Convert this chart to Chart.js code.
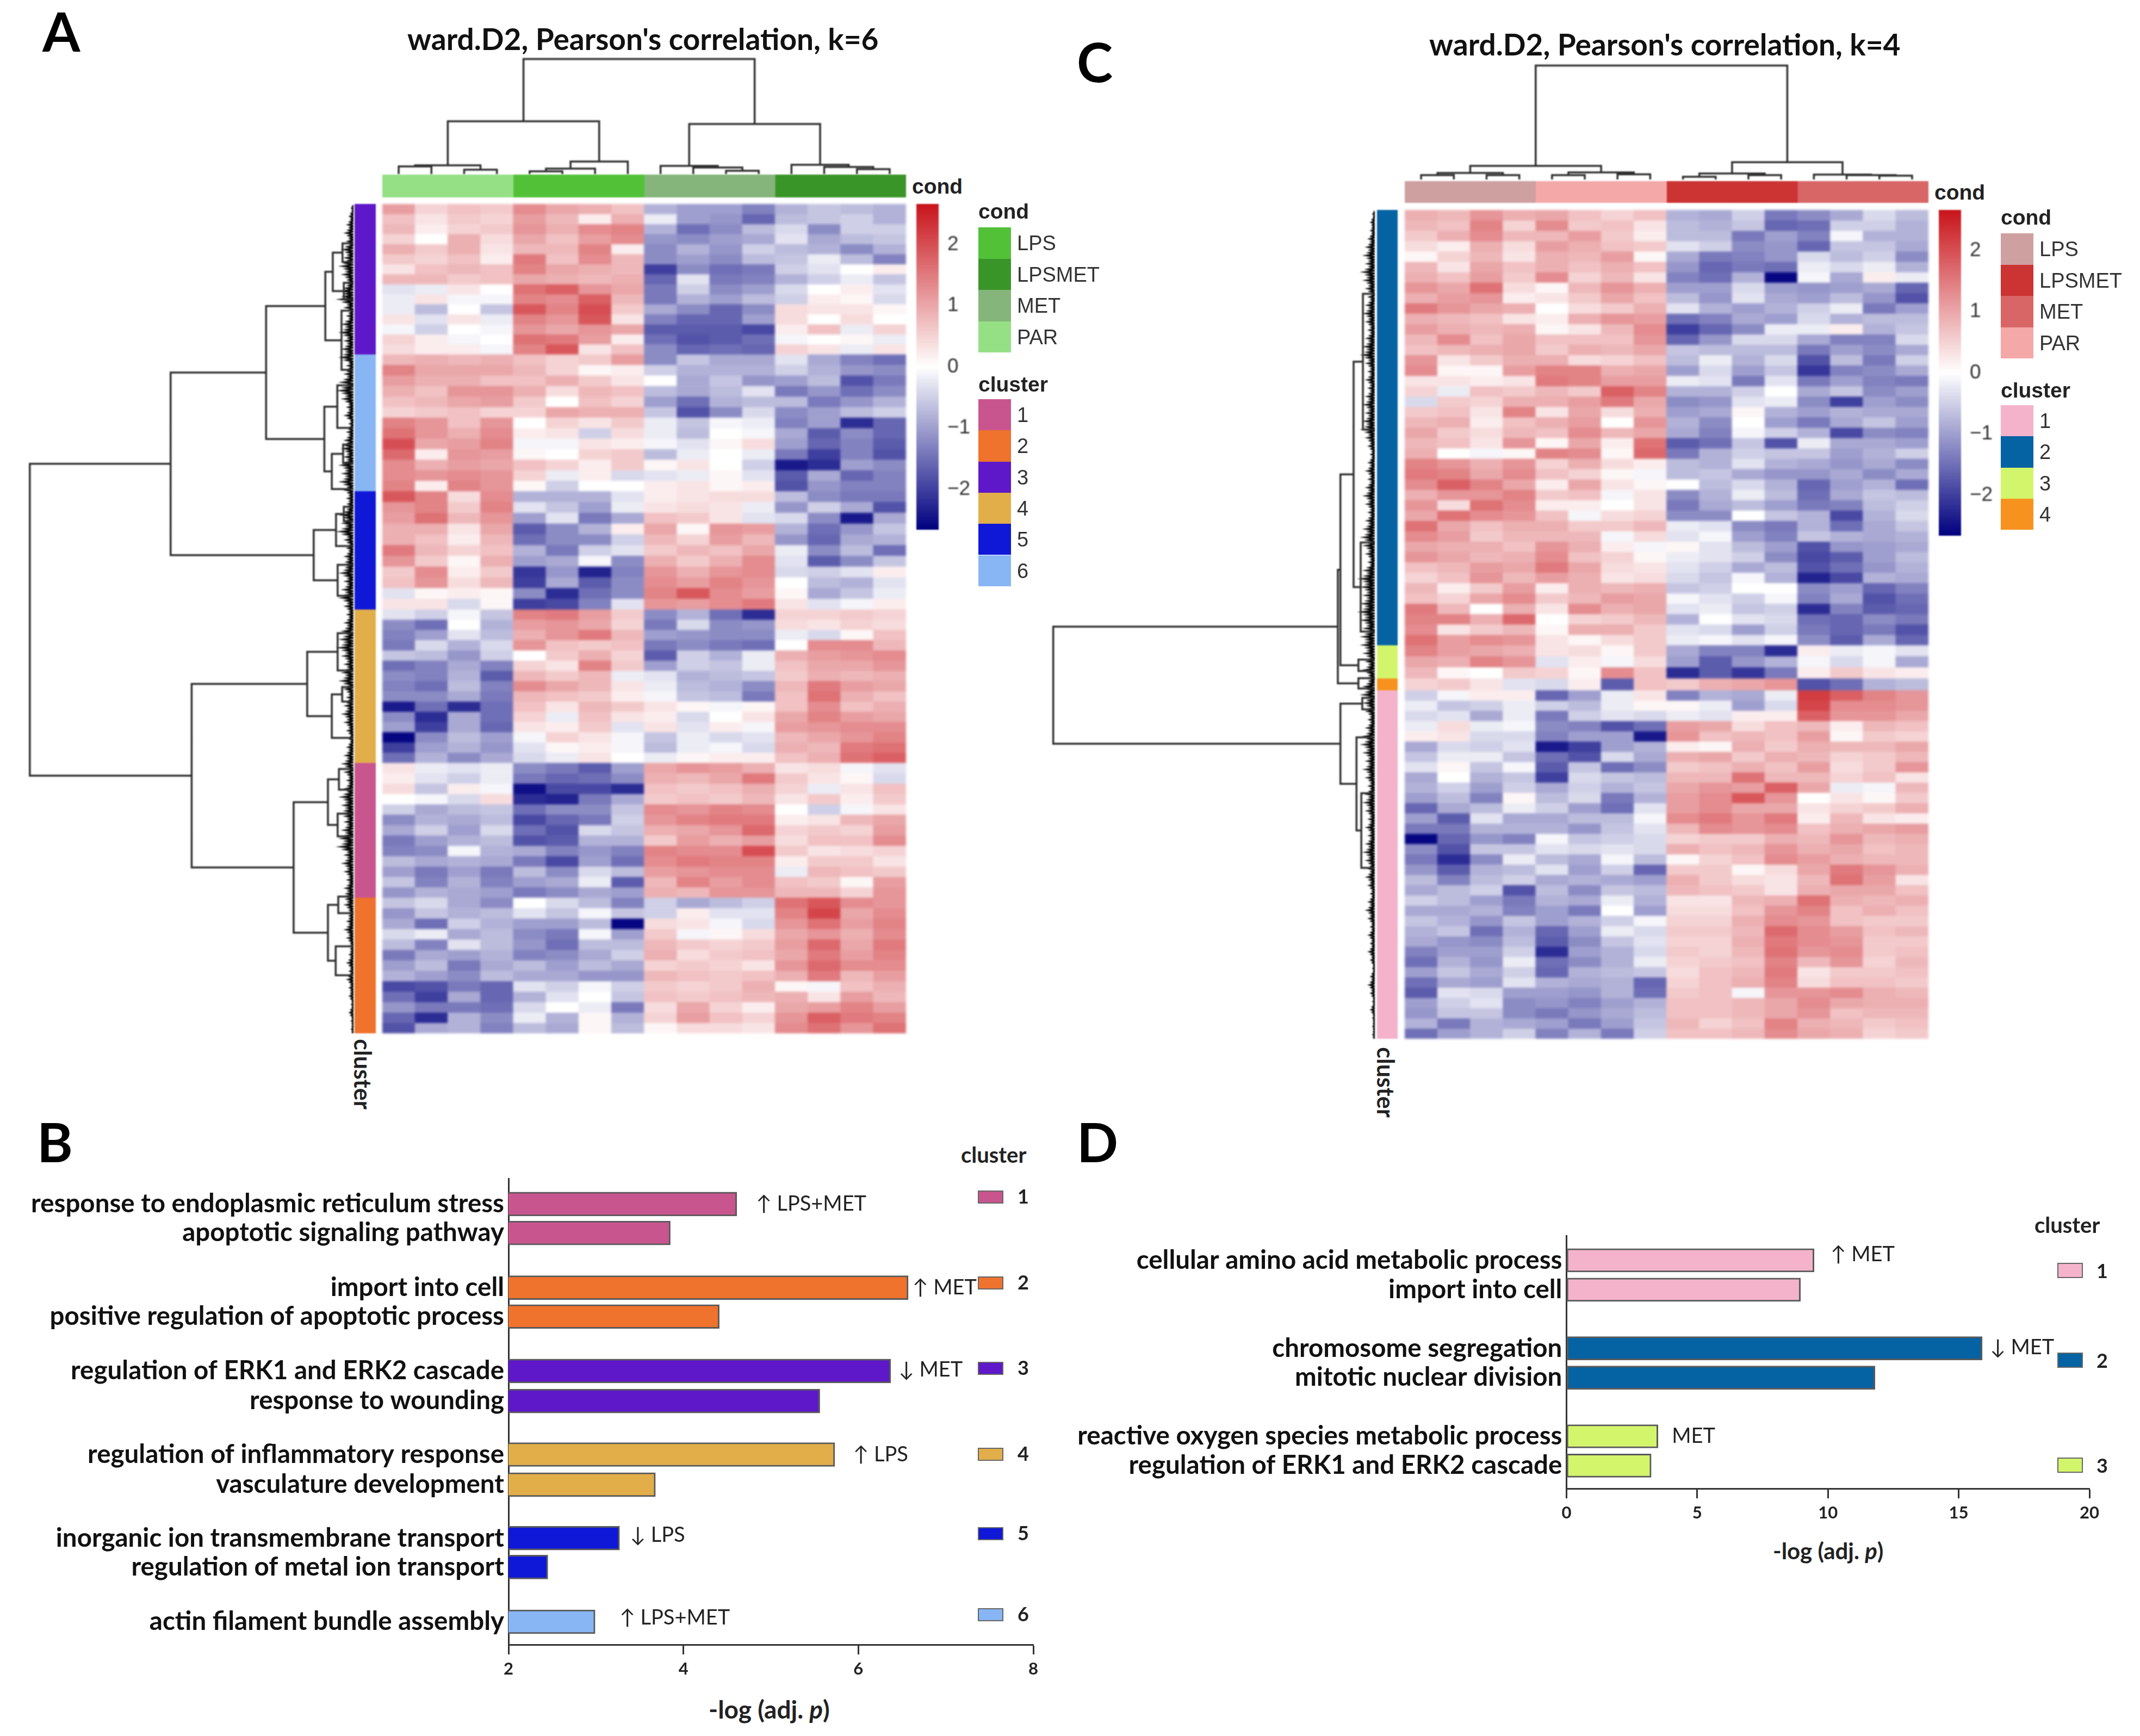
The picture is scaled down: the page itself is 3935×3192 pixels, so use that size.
<!DOCTYPE html>
<html lang="en">
<head>
<meta charset="UTF-8">
<title>ward.D2 heatmaps</title>
<script src="https://cdn.jsdelivr.net/npm/chart.js"></script>
<style>
html,body{margin:0;background:#fff;}
#page{position:relative;width:3935px;height:3192px;overflow:hidden;background:#fff;}
#page canvas{position:absolute;}
.t{position:absolute;white-space:nowrap;color:#222;transform:translateY(-50%);font-family:"Liberation Sans",sans-serif;}
.sw{position:absolute;}
.soft{filter:blur(2.2px);}
.soft2{filter:blur(1.1px);}
</style>
</head>
<body>
<div id="page"></div>
<script>
// heatmap A, values in tenths, rows top to bottom, cols PAR LPS MET LPSMET
const heatA = [
[11,5,7,6,13,10,9,7,-8,-10,-10,-13,-8,-6,-7,-8],
[7,3,6,5,11,8,2,9,-2,-10,-11,-16,-7,-6,-5,-8],
[8,2,5,6,12,9,13,14,-8,-15,-12,-7,-4,-12,-5,-5],
[5,0,9,4,10,7,11,13,-11,-12,-10,-9,-3,-9,-7,-6],
[9,6,9,3,8,8,14,2,-12,-8,-11,-5,-7,-8,-12,-8],
[6,5,7,2,15,7,13,8,-12,-10,-12,-7,-6,-2,-7,-13],
[3,7,8,7,14,10,9,8,-20,-12,-15,-14,-5,-3,0,2],
[8,8,6,7,10,9,8,9,-16,-3,-14,-13,-8,-5,-2,-6],
[-3,-2,3,0,16,18,12,10,-14,-5,-12,-10,-4,0,2,-3],
[-2,3,-1,-1,14,13,18,8,-14,-8,-10,-7,-5,2,1,-4],
[-2,-7,0,-6,19,14,20,6,-9,-12,-16,-12,4,3,3,1],
[3,-3,3,-2,14,12,19,3,-13,-16,-16,-10,4,0,4,0],
[-1,-5,0,-1,12,10,12,10,-17,-17,-17,-19,2,7,-2,5],
[5,2,-1,0,16,15,11,2,-15,-18,-17,-15,-1,0,1,-2],
[4,2,2,-1,14,19,3,7,-12,-16,-15,-16,5,3,-2,3],
[8,9,8,9,7,5,6,11,-12,-6,-9,-9,-3,-9,-13,-15],
[14,10,10,10,8,5,1,2,-5,-8,-8,-8,-5,-8,-11,-12],
[11,9,9,7,7,9,6,3,0,-9,-6,-11,-10,-7,-18,-14],
[9,7,12,12,9,4,8,7,-7,-9,-7,-3,-14,-11,-15,-12],
[7,8,10,11,6,0,7,5,-10,-15,-8,-7,-7,-14,-11,-8],
[5,6,7,5,5,10,9,9,-6,-18,-12,-4,-12,-10,-7,-5],
[14,12,7,12,0,5,3,6,-2,-6,-1,-2,-13,-10,-22,-16],
[16,12,9,13,2,3,-5,4,-2,-7,0,-1,-9,-17,-12,-16],
[20,10,11,14,-1,-1,3,2,-1,-3,1,4,-10,-16,-13,-17],
[17,2,12,11,1,0,5,6,-7,-2,0,-2,-14,-20,-13,-18],
[13,9,11,10,7,5,2,6,1,3,0,-5,-24,-22,-10,-12],
[13,12,13,12,5,-2,2,-4,-3,-2,1,-3,-17,-9,-16,-13],
[14,2,14,12,1,-5,0,0,2,3,1,2,-18,-11,-13,-13],
[19,14,4,13,-8,-8,-8,-3,2,3,4,4,-7,-12,-14,-14],
[12,14,6,14,-3,-6,-10,-2,3,4,3,-2,-11,-5,-9,-18],
[11,16,8,12,-10,-3,-14,-9,7,6,3,-3,-4,-12,-24,-9],
[9,9,3,10,-17,-12,-8,2,10,1,12,11,-8,-15,-11,-6],
[9,7,2,8,-15,-12,-12,-5,8,5,11,8,-11,-16,-9,-8],
[15,8,5,7,-8,-14,-5,-3,6,8,7,10,-2,-12,-7,-15],
[12,6,1,9,-10,-9,-1,-12,9,6,9,13,-3,-17,-12,-6],
[6,13,2,6,-21,-11,-23,-13,12,9,12,13,-4,-5,-3,2],
[7,12,4,8,-20,-9,-17,-12,13,11,14,12,0,-7,-8,-3],
[-3,1,2,1,-12,-22,-15,-12,14,19,13,11,1,-9,-6,-2],
[3,3,-4,1,-20,-19,-13,-3,12,11,13,15,3,-3,-1,2],
[-3,-5,-1,-6,14,15,11,6,-12,-8,-15,-22,5,5,6,5],
[-12,-15,0,-8,11,12,10,5,-14,-4,-12,-11,4,3,5,4],
[-13,-10,-3,-7,9,12,15,8,-10,-11,-12,-12,-2,-4,1,7],
[-14,-4,-8,-4,12,7,6,7,-14,-12,-14,-15,0,13,13,8],
[-6,-7,-11,-5,0,6,9,5,-17,-5,-8,-2,9,11,12,13],
[-15,-13,-9,-13,5,3,14,6,-10,-5,-6,-2,7,10,10,12],
[-12,-13,-8,-17,8,6,8,-2,-3,-8,-7,-6,6,9,8,9],
[-13,-15,-7,-13,13,10,8,3,-2,-7,-8,-12,8,15,11,10],
[-12,-12,-9,-14,8,7,6,2,-1,-6,-7,-14,7,16,9,7],
[-24,-15,-22,-15,7,3,8,6,3,1,-1,1,7,13,7,9],
[-12,-22,-9,-15,5,-2,7,3,2,-4,0,3,10,14,11,10],
[-10,-20,-9,-16,3,2,6,-3,3,-3,2,-1,11,12,13,13],
[-26,-12,-7,-10,-1,5,3,-1,-6,-2,-4,-3,8,10,12,14],
[-20,-10,-8,-11,-3,1,2,-1,-7,-2,-1,-4,9,8,15,16],
[-15,-8,-12,-9,-4,-2,3,0,-2,1,2,2,7,9,16,18],
[3,-2,-3,-2,-12,-14,-17,-10,10,12,11,9,3,4,-1,-3],
[2,-3,-5,-2,-14,-16,-15,-12,9,8,10,15,6,3,1,-4],
[4,-6,2,-1,-25,-19,-19,-22,7,6,7,9,5,-2,3,7],
[0,-1,-4,4,-22,-23,-14,-9,6,7,6,8,3,6,2,6],
[-5,-9,-7,-6,-15,-12,-12,-6,13,12,14,13,0,-5,-1,3],
[-12,-8,-9,-7,-19,-16,-14,-5,12,14,15,15,2,3,8,10],
[-9,-5,-10,-4,-15,-18,-4,-6,9,10,12,17,5,6,5,11],
[-14,-10,-8,-7,-18,-17,-8,-8,6,11,9,11,4,7,7,13],
[-13,-12,-1,-8,-9,-13,-11,-13,14,13,13,20,6,3,4,5],
[-7,-9,-8,-9,-14,-19,-10,-15,13,15,14,14,2,6,6,3],
[-10,-14,-10,-14,-7,-12,-4,-7,11,12,13,13,-2,8,7,6],
[-6,-13,-8,-13,-10,-9,-2,-17,8,14,11,13,7,6,1,11],
[-11,-8,-9,-10,-14,-12,-9,-10,9,8,12,12,8,8,5,12],
[-6,-4,-9,-12,0,-4,-7,-13,-5,-9,-7,-5,16,19,13,12],
[-11,-6,-8,-7,-3,-6,-1,-6,-5,2,-3,-3,14,21,10,13],
[-9,-15,-5,-8,-10,-10,-7,-26,4,3,-1,-4,12,16,11,14],
[-4,-2,-9,-7,-12,-14,-1,-10,6,-1,1,4,10,12,9,13],
[-7,-13,-3,-7,-11,-15,-7,-7,8,6,5,6,11,17,10,15],
[-14,-9,-10,-8,-13,-12,-9,-5,9,4,6,7,10,15,11,14],
[-10,-7,-14,-9,-7,-10,-7,-9,5,6,5,3,12,17,13,13],
[-8,-10,-12,-7,-9,-9,-11,-11,8,7,6,7,9,15,8,11],
[-19,-18,-14,-16,-3,-5,-1,-5,6,5,6,9,1,-1,7,9],
[-15,-20,-9,-16,-8,-3,0,-6,7,6,7,8,9,3,11,8],
[-11,-14,-14,-15,-4,0,-2,-14,4,10,5,2,10,11,14,11],
[-16,-22,-8,-12,-2,-8,1,-8,5,11,7,5,12,18,15,14],
[-18,-9,-8,-13,-7,-9,1,-7,1,4,4,3,13,16,12,16]
];
// heatmap C, cols LPS PAR LPSMET MET
const heatC = [
[9,8,12,9,10,7,5,7,-8,-9,-5,-14,-12,-9,-4,-7],
[8,7,14,5,13,6,7,3,-7,-8,-6,-16,-15,-5,-5,-8],
[6,9,13,8,8,11,6,2,-7,-7,-14,-10,-13,-1,-8,-8],
[4,2,9,4,11,9,7,6,-3,-5,-12,-11,-16,-6,-6,-9],
[1,5,8,3,9,8,11,1,-9,-14,-13,-11,-4,-7,-5,-12],
[8,3,10,7,9,7,9,7,-11,-16,-14,-15,-2,-4,-2,-8],
[9,7,11,6,13,5,8,3,-13,-15,-8,-26,-1,-9,2,-2],
[12,10,16,4,1,8,12,9,-10,-10,-4,-10,-11,-10,-9,-16],
[9,11,12,2,3,6,10,7,-7,-11,-3,-9,-10,-7,-11,-18],
[15,12,10,9,0,4,6,9,-3,-8,-10,-8,-5,-2,-14,-10],
[9,8,7,3,2,9,12,11,-15,-13,-9,-10,-4,-8,-7,-7],
[11,9,8,9,1,3,8,13,-20,-16,-12,-2,-2,2,-8,-6],
[8,13,7,10,7,7,7,12,-16,-11,-4,-4,-9,-13,-13,-4],
[7,8,9,10,6,9,8,10,-6,-7,-7,-7,-14,-10,-12,-9],
[12,3,6,9,9,4,5,7,-7,-2,-8,-4,-18,-7,-14,-5],
[13,1,1,11,14,14,9,10,-10,-4,-10,-6,-21,-13,-12,-9],
[3,3,2,3,15,14,11,11,-2,-3,-14,-3,-14,-10,-13,-14],
[5,-2,7,6,8,6,18,14,-8,-8,-5,0,-9,-6,-12,-10],
[-4,6,5,9,9,11,15,10,-12,-11,-3,-2,-12,-20,-10,-12],
[6,7,3,14,3,10,4,9,-10,-9,1,-8,-10,-8,-9,-9],
[8,9,2,7,9,11,0,12,-8,-12,0,-10,-14,-9,-6,-10],
[10,6,4,8,7,13,8,10,-9,-13,-1,-5,-8,-19,-12,-13],
[8,7,3,12,1,10,2,16,-17,-15,-6,-18,-2,-9,-9,-10],
[9,0,-1,1,14,13,1,17,-14,-8,-5,-6,-6,-10,-8,-5],
[14,12,9,12,5,9,4,2,-7,-8,-3,-8,-9,-11,-9,-12],
[15,14,10,13,7,5,1,-1,-7,-6,-9,-11,-11,-9,-12,-9],
[13,18,14,10,2,10,3,1,0,-7,-4,-8,-16,-10,-8,-15],
[9,12,12,14,6,7,-1,3,-12,-8,-2,-7,-15,-9,-6,-7],
[12,4,16,13,2,2,0,3,-14,-9,-7,-10,-14,-13,-7,-5],
[10,16,13,12,7,-1,4,5,-12,-12,0,-6,-8,-19,-8,-4],
[16,10,7,9,9,6,6,8,-2,-3,-12,-14,-8,-15,-9,-6],
[13,11,6,8,8,8,-1,4,-3,-1,-10,-13,-6,-8,-9,-8],
[10,9,9,7,12,9,2,-1,1,-3,-7,-10,-18,-11,-10,-9],
[12,10,8,9,13,7,5,1,-2,-3,-5,-12,-19,-17,-10,-7],
[7,8,11,10,15,10,4,3,-3,-5,-9,-7,-18,-15,-11,-8],
[5,7,12,8,11,9,3,4,-4,-6,-1,-8,-23,-19,-8,-9],
[8,2,6,11,2,9,8,9,-6,-5,0,0,-12,-10,-16,-13],
[7,5,10,13,6,8,11,10,-1,-3,-5,-1,-13,-9,-18,-15],
[15,8,0,9,3,13,9,10,-3,-2,-6,-5,-22,-13,-17,-16],
[14,14,9,17,0,5,6,8,-8,0,-3,-4,-15,-16,-12,-14],
[13,3,6,8,1,9,9,6,-3,-4,-10,-5,-14,-16,-14,-18],
[16,11,13,12,3,1,4,6,-2,-1,-3,-1,-12,-17,-9,-16],
[14,11,10,9,3,4,1,6,-9,-13,-13,-22,2,-2,-1,-3],
[10,9,14,12,-3,2,-1,4,-10,-17,-11,-8,-1,-4,-1,-9],
[8,1,0,6,5,1,13,7,-22,-17,-21,-14,2,6,3,2],
[5,6,3,-3,-4,2,-17,7,6,9,10,12,-18,-15,-8,-7],
[-5,-1,2,2,-16,-10,-2,3,-13,-8,-9,-2,22,18,14,12],
[-2,-6,-5,-2,-5,-7,-2,1,1,-2,-10,-4,21,13,13,12],
[-4,-3,-9,-2,-14,-5,-3,-4,-2,-3,2,2,18,12,12,10],
[-2,4,-2,-1,-12,-13,-18,-15,11,10,4,7,8,2,8,7],
[2,3,-4,-4,-13,-10,-10,-24,12,7,8,7,11,1,6,5],
[-9,-4,-5,-3,-24,-20,-10,-8,2,1,9,6,9,8,8,10],
[-6,-2,-2,-6,-15,-18,-4,-9,9,10,6,9,8,5,6,8],
[-3,1,-6,-1,-17,-6,-15,-12,6,7,9,7,11,4,6,12],
[-9,0,-8,-6,-20,-4,-6,-7,8,8,16,8,8,5,7,3],
[-8,-5,-10,-5,-9,-5,-8,-6,10,12,11,18,10,-2,-1,8],
[-10,-7,-13,1,-7,-4,-14,-8,11,13,19,12,0,3,1,6],
[-16,-9,-7,-2,-5,-10,-15,-3,11,13,10,10,3,5,6,9],
[-10,-17,-3,-9,-9,-7,-7,-1,13,15,12,15,2,8,3,2],
[-14,-14,-8,-8,-8,-11,-6,-3,8,13,12,13,7,9,10,11],
[-26,-16,-11,-13,-1,-6,-5,-4,5,6,6,9,8,12,8,9],
[-12,-18,-6,-6,-3,-4,-3,-4,9,7,8,12,9,10,7,8],
[-14,-22,-12,-2,-7,-9,-1,-7,1,5,7,13,11,9,8,8],
[-11,-17,-8,-7,-3,-10,-5,-16,6,6,1,4,10,15,12,9],
[-7,-13,-7,-5,-9,-8,-9,-10,9,6,4,3,8,16,11,3],
[-9,-7,-5,-18,-7,-12,-6,-7,8,7,6,3,9,10,10,7],
[-5,-7,-10,-14,-8,-9,-2,-8,3,3,8,9,16,9,8,9],
[-9,-9,-8,-13,-10,-14,0,-10,4,4,7,12,14,7,9,7],
[-6,-8,-11,-6,-10,-8,-5,-1,5,5,9,13,12,7,6,6],
[-8,-6,-15,-8,-16,-10,-2,-4,6,6,8,17,13,11,7,8],
[-9,-11,-12,-7,-17,-12,-6,-3,5,5,9,15,13,12,6,6],
[-13,-10,-10,-5,-22,-10,-8,-4,6,5,8,16,12,13,6,7],
[-15,-8,-11,-2,-15,-12,-8,-2,5,6,7,14,8,12,5,8],
[-10,-6,-9,-5,-16,-8,-7,-6,4,7,8,15,3,6,6,7],
[-15,-9,-10,-3,-8,-9,-8,-16,5,7,9,14,4,7,7,6],
[-17,-3,-4,-10,-10,-11,-8,-15,6,7,-1,12,12,13,9,8],
[-10,-5,-3,-12,-11,-13,-10,-8,7,7,8,10,13,10,9,9],
[-11,-6,-6,-12,-14,-11,-9,-7,7,7,8,10,12,7,8,8],
[-8,-14,-8,-9,-10,-14,-10,-6,8,5,7,14,9,8,6,7],
[-15,-10,-8,-5,-13,-8,-14,-5,7,7,8,13,10,9,5,6]
];

// how many rows each cluster block holds, and its share of the 80 unit side
const rowsPerClusterA = [15,13,11,15,13,13];
const clusterSizeA = [14.5,13.2,11.4,14.8,13,13.1];
const clusterColA = ['#5e18c9','#88b6f4','#1018d8','#e1ae4a','#c9558f','#ef722d'];
const rowsPerClusterC = [42,3,1,34];
const clusterSizeC = [42,3.2,1.15,33.65];
const clusterColC = ['#0663a3','#d3f56b','#f7921e','#f4b3cb'];

const condStripColA = ['#95e085','#52c138','#85b57a','#3a9528'];
const condStripColC = ['#cfa0a0','#f5a8a8','#cc3333','#d96666'];

// dendrograms: [height, left, right], a plain number is a leaf position
const topTreeA = [100,
  [45.9,[7.6,[6.6,0,1],[3.8,2,3]],[10.9,[4.7,[2.4,4,5],6],7]],
  [43.5,[7.1,8,[5.7,9,[2.8,10,11]]],[8,12,[6.2,13,[4.3,14,15]]]]];
const topTreeC = [100,
  [11.9,[5.7,[3.8,0,1],[3.8,2,3]],[6.2,[3.8,4,5],[4.5,6,7]]],
  [15.2,[5.2,[2.4,8,9],[3.8,10,11]],[4.3,12,[3.8,13,[3.3,14,15]]]]];
const leftTreeA = [100,
  [56.5,[27,
    [8.7,[6.4,[3.4,3.8,5.6],[3,7.6,9.2]],[3.7,10.3,16]],
    [9,[5,17.5,21.6],[6.7,[3.2,23.2,25],27.5]]],
    [12.3,[5.4,[3,29.2,30.6],33],[4.9,34.8,37.8]]],
  [50,[14.3,[4.9,41.4,45],[6.7,[3.5,46.6,48],51.5]],
    [18.5,[7.9,[4.5,54.5,56.5],[4.9,58.8,61]],[7.9,[4.7,66.8,68.4],[5.5,71.6,74.4]]]]];
const leftTreeC = [100,
  [11.5,[10.7,[6.6,[3.7,8.1,21.2],[4.4,32.1,40.7]],[5.1,43.4,44.5]],[5.1,45.2,46.2]],
  [10.7,[3.9,47.1,48.2],[5.7,50.9,[4.2,56.3,63.5]]]];
// the dense black fringe next to the strip (depth of each small branch)
const fringeA = [.5,1,1.5,2,1.5,2.5,2,3,2.5,2,3,3.5,2,1.5,2.5,3,2,2.5,3,1.5,2,3,3.5,2.5,1.5,2,1,1.5,2,2.5,2,3,2.5,3,2,1.5,2,3,2.5,3.5,2,1.5,2,2.5,3,2,2.5,3,2,1.5,2,2.5,3,3.5,2.5,2,2.5,3,2,1.5,2,2.5,2,1.5,1,1.5,2,2.5,2,1.5,2,3,2.5,3,2,2.5,3,3.5,2,2.5,2,1.5,2,2.5,2,1.5,1.5,2,1.5,1,1,1.5,1,1.5,1,1,.5,1,.5,.5];
const fringeC = [.5,1,1,1.5,2,2.5,2,3,2.5,2,1.5,2,2.5,2,1.5,2,2.5,3,2,1.5,2,1.5,2,2.5,2,2.5,3,2,1.5,1,1.5,2,1.5,2,2.5,2,1.5,2,2.5,3,2.5,2,1.5,2.5,3.5,3,2.5,3,3.5,3,2.5,3,3,2.5,2,2.5,2,2.5,3,2.5,2,1.5,2,2.5,3,2.5,2,2.5,2,1.5,2,2.5,2,1.5,2,1.5,2,2.5,2,1.5,2,1.5,1,1.5,2,1.5,1,1.5,1,1.5,1,.5,1,1.5,1,.5,1,.5,.5,.5];

const colorTicks = [-2,-1,0,1,2];
const colorMax = 2.66;

const condNames = ['LPS','LPSMET','MET','PAR'];
const condLegA = ['#52c138','#3a9528','#85b57a','#95e085'];
const condLegC = ['#cfa0a0','#cc3333','#d96666','#f5a8a8'];
const clusterLegA = ['#c9558f','#ef722d','#5e18c9','#e1ae4a','#1018d8','#88b6f4'];
const clusterLegC = ['#f4b3cb','#0663a3','#d3f56b','#f7921e'];

// bar panels
const termsB = ['response to endoplasmic reticulum stress','apoptotic signaling pathway','import into cell','positive regulation of apoptotic process','regulation of ERK1 and ERK2 cascade','response to wounding','regulation of inflammatory response','vasculature development','inorganic ion transmembrane transport','regulation of metal ion transport','actin filament bundle assembly'];
const valuesB = [4.61,3.85,6.57,4.41,6.37,5.56,5.73,3.68,3.27,2.45,2.99];
const rowPosB = [0,1,2.89,3.89,5.77,6.81,8.66,9.7,11.55,12.55,14.44];
const clusterOfB = [1,1,2,2,3,3,4,4,5,5,6];
const ticksB = [2,4,6,8];
const noteTextB = ['↑ LPS+MET','↑ MET','↓ MET','↑ LPS','↓ LPS','↑ LPS+MET'];
const noteValB = [4.83,6.62,6.46,5.94,3.39,3.27];
const noteRowB = [0,2.89,5.74,8.66,11.45,14.3];

const termsD = ['cellular amino acid metabolic process','import into cell','chromosome segregation','mitotic nuclear division','reactive oxygen species metabolic process','regulation of ERK1 and ERK2 cascade'];
const valuesD = [9.47,8.95,15.9,11.8,3.5,3.24];
const rowPosD = [0,1,3,4,6,7];
const clusterOfD = [1,1,2,2,3,3];
const ticksD = [0,5,10,15,20];
const noteTextD = ['↑ MET','↓ MET','MET'];
const noteValD = [10.1,16.2,4.03];
const noteRowD = [-0.2,2.97,6];

const page = document.getElementById('page');
const BASE = {responsive:false, animation:false, devicePixelRatio:1,
  layout:{padding:0,autoPadding:false},
  plugins:{legend:{display:false},tooltip:{enabled:false}}};

function canvas(x,y,w,h,cls){
  const c = document.createElement('canvas');
  c.width = w; c.height = h;
  c.style.left = x+'px'; c.style.top = y+'px';
  if(cls) c.className = cls;
  page.appendChild(c);
  return c;
}
function txt(html,x,y,css){
  const d = document.createElement('div');
  d.className = 't';
  d.innerHTML = html;
  d.style.left = x+'px'; d.style.top = y+'px';
  d.style.cssText += css||'';
  page.appendChild(d);
  return d;
}
function swatch(x,y,w,h,col,css){
  const d = document.createElement('div');
  d.className = 'sw';
  d.style.cssText = `left:${x}px;top:${y}px;width:${w}px;height:${h}px;background:${col};`+(css||'');
  page.appendChild(d);
}

function heatColor(v){
  const t = Math.min(Math.abs(v)/colorMax,1);
  const c = v>=0 ? [200,20,26] : [0,0,127];
  return 'rgb('+c.map(k=>Math.round(255+(k-255)*t)).join(',')+')';
}

function heat(x,y,w,h,rows,rowCounts,sizes){
  const datasets = [];
  let r = 0, top = 0;
  rowCounts.forEach((n,k)=>{
    const step = sizes[k]/n;
    for(let i=0;i<n;i++){
      const a = top, b = top+step;
      datasets.push({data:rows[r].map(()=>[a,b]),
        backgroundColor:rows[r].map(v=>heatColor(v/10)),
        grouped:false,barPercentage:1,categoryPercentage:1,borderWidth:0});
      r++; top = b;
    }
  });
  new Chart(canvas(x,y,w,h,'soft'),{type:'bar',
    data:{labels:rows[0].map((v,i)=>i),datasets},
    options:{...BASE,scales:{
      x:{display:false},
      y:{display:false,min:0,max:80,reverse:true}}}});
}

// stacked strip, horizontal for the cond bar and vertical for the cluster bar
function strip(x,y,w,h,sizes,cols,horizontal,total){
  const datasets = sizes.map((s,i)=>({data:[s],backgroundColor:cols[i],barPercentage:1,categoryPercentage:1,borderWidth:0}));
  const valueAxis = {display:false,stacked:true,min:0,max:total,reverse:!horizontal};
  const catAxis = {display:false,stacked:true};
  new Chart(canvas(x,y,w,h,'soft2'),{type:'bar',
    data:{labels:['a'],datasets},
    options:{...BASE,indexAxis:horizontal?'y':'x',
      scales:horizontal?{x:valueAxis,y:catAxis}:{x:catAxis,y:valueAxis}}});
}

// walk the nested tree and push the bracket of every node
function treeSegs(node,leaf,out){
  if(typeof node==='number') return {p:leaf(node),h:0};
  const a = treeSegs(node[1],leaf,out), b = treeSegs(node[2],leaf,out);
  out.push([a.p,a.h],[a.p,node[0]],[b.p,node[0]],[b.p,b.h],null);
  return {p:(a.p+b.p)/2,h:node[0]};
}
function dendroTop(x,y,w,h,tree,maxH){
  const segs = [];
  treeSegs(tree,v=>v+.5,segs);
  const data = segs.map(s=>s?{x:s[0],y:s[1]}:{x:NaN,y:NaN});
  new Chart(canvas(x,y,w,h,'soft2'),{type:'scatter',
    data:{datasets:[{data,showLine:true,pointRadius:0,borderColor:'#2e2e2e',borderWidth:3.5,tension:0}]},
    options:{...BASE,scales:{
      x:{display:false,bounds:'data',min:0,max:16},
      y:{display:false,bounds:'data',min:0,max:maxH}}}});
}
function dendroLeft(x,y,w,h,tree,fringe,maxH){
  const segs = [];
  treeSegs(tree,v=>v,segs);
  const data = segs.map(s=>s?{x:s[1],y:s[0]}:{x:NaN,y:NaN});
  const step = 80/fringe.length;
  // each fringe entry is drawn as a small tuft of three teeth so it reads as solid black
  const zig = fringe.flatMap((d,i)=>[0,1,2].flatMap(k=>[
    {x:d*(k===1?1:.7),y:(i+(k+.5)/3)*step},{x:0,y:(i+(k+1)/3)*step}]));
  new Chart(canvas(x,y,w,h,'soft2'),{type:'scatter',
    data:{datasets:[
      {data,showLine:true,pointRadius:0,borderColor:'#2e2e2e',borderWidth:3.5,tension:0},
      {data:zig,showLine:true,pointRadius:0,borderColor:'#000',borderWidth:3,tension:0}]},
    options:{...BASE,scales:{
      x:{display:false,bounds:'data',min:0,max:maxH,reverse:true},
      y:{display:false,bounds:'data',min:0,max:80,reverse:true}}}});
}

function colorbar(x,y){
  new Chart(canvas(x,y,125,599,'soft2'),{type:'bar',
    data:{labels:['z'],datasets:[{data:[[-colorMax,colorMax]],barPercentage:1,categoryPercentage:1,borderWidth:0,
      backgroundColor(ctx){
        const a = ctx.chart.chartArea;
        if(!a) return '#fff';
        const g = ctx.chart.ctx.createLinearGradient(0,a.top,0,a.bottom);
        g.addColorStop(0,heatColor(colorMax));
        g.addColorStop(.5,'#ffffff');
        g.addColorStop(1,heatColor(-colorMax));
        return g;
      }}]},
    options:{...BASE,scales:{
      x:{display:false},
      y:{position:'right',bounds:'data',min:-colorMax,max:colorMax,
        afterFit(s){s.width=84;s.paddingTop=0;s.paddingBottom=0;},
        afterBuildTicks(s){s.ticks=colorTicks.map(v=>({value:v}));},
        grid:{display:false,drawTicks:false},border:{display:false},
        ticks:{color:'#333',padding:16,autoSkip:false,maxRotation:0,
          font:{family:'Liberation Sans',size:37},
          callback:v=>v<0?'\u2212'+(-v):''+v}}}}});
}

function legend(dx,dy,condCols,clusterCols){
  txt('cond',1677+dx,343+dy,'font-weight:700;font-size:39px;');
  txt('cond',1799+dx,389+dy,'font-weight:700;font-size:39px;');
  condNames.forEach((n,i)=>{
    swatch(1799+dx,418+dy+i*57.5,60,57.5,condCols[i]);
    txt(n,1870+dx,447+dy+i*57.5,'font-size:38px;color:#333;');
  });
  txt('cluster',1799+dx,707+dy,'font-weight:700;font-size:39px;');
  clusterCols.forEach((c,i)=>{
    swatch(1799+dx,734+dy+i*57.3,60,57.3,c);
    txt(''+(i+1),1870+dx,763+dy+i*57.3,'font-size:38px;color:#333;');
  });
}

function barPanel(o){
  const notes = {id:'notes',afterDatasetsDraw(ch){
    const g = ch.ctx;
    g.save();
    g.font = '38px Lato, "DejaVu Sans"';
    g.fillStyle = '#222';
    g.textBaseline = 'middle';
    o.noteText.forEach((s,i)=>{
      g.fillText(s,ch.scales.x.getPixelForValue(o.noteVal[i]),ch.scales.y.getPixelForValue(o.noteRow[i]));
    });
    g.restore();
  }};
  new Chart(canvas(o.x,o.y,o.w,o.h),{type:'bar',
    data:{datasets:[{data:o.values.map((v,i)=>({x:v,y:o.rowPos[i]})),
      backgroundColor:o.cluster.map(c=>o.colors[c-1]),
      borderColor:'#5a5a5a',borderWidth:3,borderSkipped:false,barThickness:o.bar}]},
    options:{...BASE,indexAxis:'y',
      layout:{autoPadding:false,padding:{top:0,right:o.padRight,left:0,bottom:0}},
      scales:{
        x:{type:'linear',bounds:'data',min:o.ticks[0],max:o.ticks[o.ticks.length-1],
          afterFit(s){s.height=o.axisH;s.paddingLeft=0;s.paddingRight=0;},
          afterBuildTicks(s){s.ticks=o.ticks.map(v=>({value:v}));},
          grid:{drawOnChartArea:false,tickLength:18,tickWidth:3,tickColor:'#333'},
          border:{color:'#333',width:3},
          ticks:{color:'#222',padding:8,maxRotation:0,font:{family:'Lato',size:31,weight:'700'}}},
        y:{type:'linear',bounds:'data',reverse:true,min:o.yMin,max:o.yMax,offset:false,
          afterFit(s){s.width=o.axisW;s.paddingTop=0;s.paddingBottom=0;},
          afterBuildTicks(s){s.ticks=o.rowPos.map(v=>({value:v}));},
          grid:{drawOnChartArea:false,drawTicks:false},
          border:{color:'#333',width:3},
          ticks:{color:'#111',padding:8,autoSkip:false,maxRotation:0,
            font:{family:'Lato',size:47.5,weight:'700'},
            callback:(v,i)=>o.terms[i]}}}},
    plugins:[notes]});
}

// panel letters and titles
txt('A',78,56,'font:700 100px Lato;color:#000;');
txt('B',68,2098,'font:700 100px Lato;color:#000;');
txt('C',1980,112,'font:700 100px Lato;color:#000;');
txt('D',1980,2098,'font:700 100px Lato;color:#000;');
txt("ward.D2, Pearson's correlation, k=6",749,71,'font:700 55px Lato;color:#111;');
txt("ward.D2, Pearson's correlation, k=4",2628,81,'font:700 55px Lato;color:#111;');

// panel A
heat(703,375,963,1525,heatA,rowsPerClusterA,clusterSizeA);
strip(703,321,963,42,[4,4,4,4],condStripColA,true,16);
strip(652,375,39,1525,clusterSizeA,clusterColA,false,80);
dendroTop(703,100,963,220,topTreeA,104);
dendroLeft(31,375,619,1525,leftTreeA,fringeA,104);
colorbar(1685,375);
legend(0,0,condLegA,clusterLegA);
txt('cluster',667,1975,'font:700 43px Lato;transform:translate(-50%,-50%) rotate(90deg);');

// panel C
heat(2583,386,963,1524,heatC,rowsPerClusterC,clusterSizeC);
strip(2583,333,963,40,[4,4,4,4],condStripColC,true,16);
strip(2532,386,38,1524,clusterSizeC,clusterColC,false,80);
dendroTop(2583,112,963,218,topTreeC,104);
dendroLeft(1913,386,615,1524,leftTreeC,fringeC,104);
colorbar(3565,386);
legend(1880,11,condLegC,clusterLegC);
txt('cluster',2548,1990,'font:700 43px Lato;transform:translate(-50%,-50%) rotate(90deg);');

// panel B
barPanel({x:20,y:2166,w:1910,h:938,padRight:30,axisW:915,axisH:80,bar:44,
  yMin:-0.9,yMax:15.23,terms:termsB,values:valuesB,rowPos:rowPosB,cluster:clusterOfB,colors:clusterLegA,
  ticks:ticksB,noteText:noteTextB,noteVal:noteValB,noteRow:noteRowB});
txt('cluster',1767,2123,'font:700 40px Lato;');
[2201,2359,2516,2674,2820,2969].forEach((cy,i)=>{
  swatch(1798,cy-12,47,24,clusterLegA[i],'border:2px solid #666;box-sizing:border-box;');
  txt(''+(i+1),1871,cy-2,'font:700 36px Lato;');
});
txt('-log (adj. <i>p</i>)',1303,3142,'font:700 46px Lato;');

// panel D
barPanel({x:1960,y:2271,w:1912,h:546,padRight:30,axisW:920.4,axisH:80,bar:43,
  yMin:-0.86,yMax:7.78,terms:termsD,values:valuesD,rowPos:rowPosD,cluster:clusterOfD,colors:clusterLegC,
  ticks:ticksD,noteText:noteTextD,noteVal:noteValD,noteRow:noteRowD});
txt('cluster',3741,2252,'font:700 40px Lato;');
[2336,2501,2694].forEach((cy,i)=>{
  swatch(3783,cy-14,47,28,clusterLegC[i],'border:2px solid #666;box-sizing:border-box;');
  txt(''+(i+1),3855,cy,'font:700 36px Lato;');
});
txt('-log (adj. <i>p</i>)',3260,2851,'font:700 42px Lato;');
</script>
</body>
</html>
